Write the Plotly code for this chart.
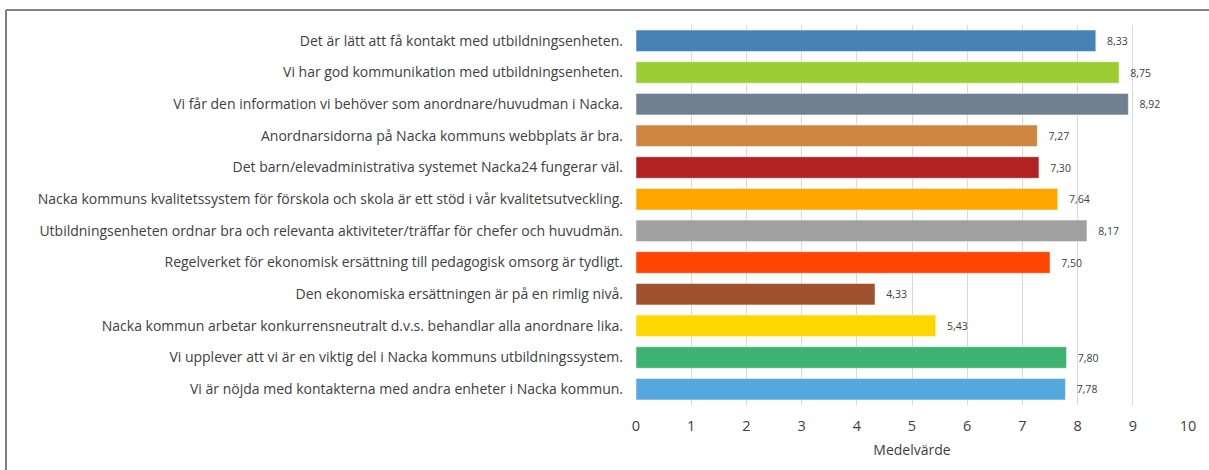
import plotly.graph_objects as go

categories = [
    "Det är lätt att få kontakt med utbildningsenheten.",
    "Vi har god kommunikation med utbildningsenheten.",
    "Vi får den information vi behöver som anordnare/huvudman i Nacka.",
    "Anordnarsidorna på Nacka kommuns webbplats är bra.",
    "Det barn/elevadministrativa systemet Nacka24 fungerar väl.",
    "Nacka kommuns kvalitetssystem för förskola och skola är ett stöd i vår kvalitetsutveckling.",
    "Utbildningsenheten ordnar bra och relevanta aktiviteter/träffar för chefer och huvudmän.",
    "Regelverket för ekonomisk ersättning till pedagogisk omsorg är tydligt.",
    "Den ekonomiska ersättningen är på en rimlig nivå.",
    "Nacka kommun arbetar konkurrensneutralt d.v.s. behandlar alla anordnare lika.",
    "Vi upplever att vi är en viktig del i Nacka kommuns utbildningssystem.",
    "Vi är nöjda med kontakterna med andra enheter i Nacka kommun.",
]
values = [8.33, 8.75, 8.92, 7.27, 7.30, 7.64, 8.17, 7.50, 4.33, 5.43, 7.80, 7.78]
colors = ["#4682B4", "#9ACD32", "#708090", "#CD853F", "#B22222", "#FFA500",
          "#A0A0A0", "#FF4500", "#A0522D", "#FFD700", "#3CB371", "#55A8DE"]
x_ticks = list(range(0, 11))

FONT = "Open Sans"

fig = go.Figure(go.Bar(
    y=categories, x=values, orientation="h",
    marker=dict(color=colors, line=dict(color="rgba(255,255,255,0.5)", width=1)),
    text=values, texttemplate="   %{x:.2f}", textposition="outside",
    textfont=dict(family=FONT, size=10.5, color="#404040"),
    cliponaxis=False,
))

W, H = 1209, 470
L, R, T, B = 636, 21, 25, 65

fig.update_layout(
    width=W, height=H,
    margin=dict(l=L, r=R, t=T, b=B),
    paper_bgcolor="white", plot_bgcolor="white",
    separators=", ",
    bargap=0.32,
    showlegend=False,
    font=dict(family=FONT, color="#404040"),
    xaxis=dict(range=[0, 10], tickvals=x_ticks, showgrid=True, gridcolor="#D9D9D9",
               gridwidth=1, zeroline=False, showline=False,
               ticklabelstandoff=10,
               tickfont=dict(family=FONT, size=14.5, color="#404040"),
               title=dict(text="Medelvärde", font=dict(family=FONT, size=14, color="#404040"), standoff=11)),
    yaxis=dict(autorange="reversed", showgrid=False, showline=False, zeroline=False,
               ticks="", ticklabelstandoff=12, tickfont=dict(family=FONT, size=14, color="#404040")),
)

# outer frame lines (top and left)
pw, ph = W - L - R, H - T - B
fig.add_shape(type="line", xref="paper", yref="paper",
              x0=(6 - L) / pw, x1=(W - L) / pw, y0=(H - B - 10) / ph, y1=(H - B - 10) / ph,
              line=dict(color="#595959", width=1.5))
fig.add_shape(type="line", xref="paper", yref="paper",
              x0=(6 - L) / pw, x1=(6 - L) / pw, y0=(H - B - 10) / ph, y1=(H - B - H) / ph,
              line=dict(color="#7F7F7F", width=2))

fig.write_html("out.html", config={"displayModeBar": False},
               post_script="document.body.style.margin='0';document.body.style.overflow='hidden';")
